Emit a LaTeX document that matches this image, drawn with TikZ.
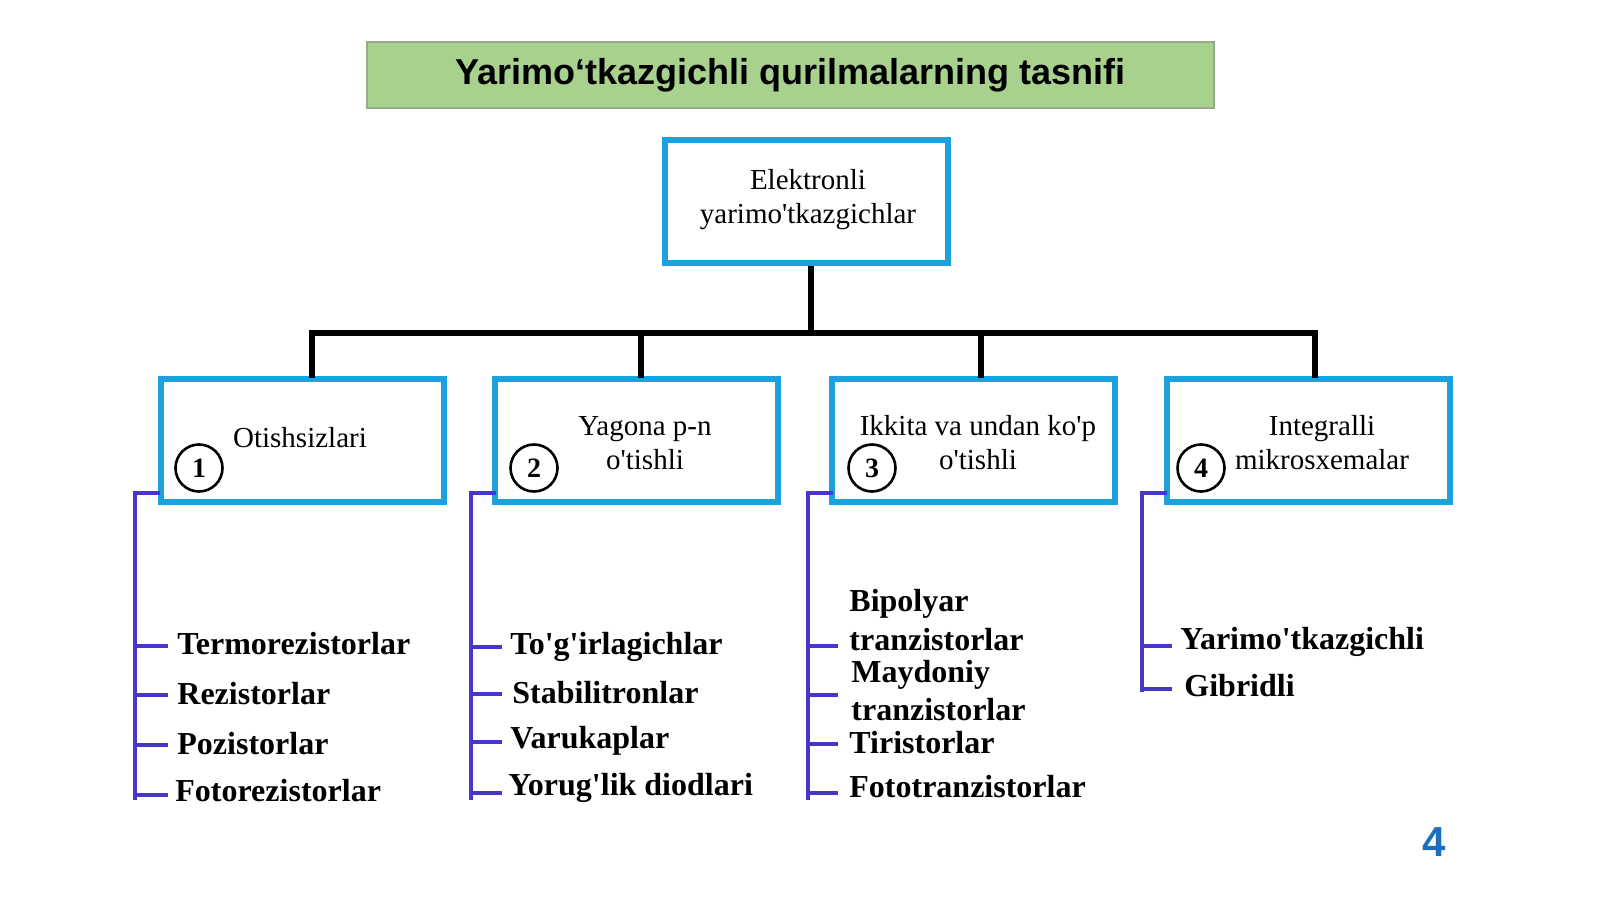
\documentclass[tikz,border=0pt]{standalone}
\usepackage{fontspec}
\setmainfont{Liberation Serif}
\newfontfamily\titlefont{Liberation Sans}
\newcommand\qq{\textquotesingle}
\begin{document}
\begin{tikzpicture}[x=0.5pt,y=-0.5pt,
  bluebox/.style={draw={rgb,255:red,30;green,160;blue,220},line width=3.2pt,minimum width=141.5pt,minimum height=61.5pt,inner sep=0pt},
  tree/.style={line width=2.6pt,black},
  brk/.style={line width=1.8pt,color={rgb,255:red,70;green,55;blue,200}},
  item/.style={anchor=west,font=\bfseries\fontsize{16}{17}\selectfont,inner sep=0pt},
  btxt/.style={font=\fontsize{14.5}{17}\selectfont,align=center,inner sep=0pt},
  num/.style={circle,draw,line width=1.3pt,minimum size=23.5pt,inner sep=0pt,font=\bfseries\fontsize{14}{14}\selectfont}]
\useasboundingbox (0,0) rectangle (1600,899);
\node[draw={rgb,255:red,150;green,170;blue,140},fill={rgb,255:red,169;green,209;blue,142},line width=0.8pt,minimum width=423.5pt,minimum height=33pt,inner sep=0pt,font=\titlefont\bfseries\fontsize{18}{20}\selectfont] (title) at (790.5,75) {Yarimo‘tkazgichli qurilmalarning tasnifi};
\node[bluebox] (top) at (806.5,201.5) {};
\node[btxt] at (808,200) {Elektronli\\yarimo\qq tkazgichlar};
\foreach \i/\x in {1/302.5,2/636.5,3/973.5,4/1308.5}{\node[bluebox] (b\i) at (\x,440.5) {};}
\node[btxt] at (300,438) {Otishsizlari};
\node[btxt] at (645,443) {Yagona p-n\\o\qq tishli};
\node[btxt] at (978,443) {Ikkita va undan ko\qq p\\o\qq tishli};
\node[btxt] at (1322,443) {Integralli\\mikrosxemalar};
\node[num] (n1) at (199,468) {1};
\node[num] (n2) at (534,468) {2};
\node[num] (n3) at (872,468) {3};
\node[num] (n4) at (1201,468) {4};
\coordinate (hj) at (811,333);
\draw[tree] (top.south -| hj) -- (hj);
\draw[tree] (312,378) |- (1315,333) -- (1315,378);
\draw[tree] (641,333) -- (641,378);
\draw[tree] (981,333) -- (981,378);
\foreach \x/\e in {135/800,471/800,808/800,1142/692}{
  \draw[brk] (\x+25,493) -- (\x,493) -- (\x,\e);}
\foreach \y in {646,695,745,795}{\draw[brk] (135,\y) -- (168,\y);}
\foreach \y in {647,694,742,793}{\draw[brk] (471,\y) -- (502,\y);}
\foreach \y in {646,695,744,793}{\draw[brk] (808,\y) -- (838,\y);}
\foreach \y in {646,689}{\draw[brk] (1142,\y) -- (1172,\y);}
\node[item] (i11) at (177,644) {Termorezistorlar};
\node[item] (i12) at (177,694) {Rezistorlar};
\node[item] (i13) at (177,744) {Pozistorlar};
\node[item] (i14) at (175,791) {Fotorezistorlar};
\node[item] (i21) at (510,647) {To\qq g\qq irlagichlar};
\node[item] (i22) at (512,693) {Stabilitronlar};
\node[item] (i23) at (510,741) {Varukaplar};
\node[item] (i24) at (508,788) {Yorug\qq lik diodlari};
\node[item] (i31) at (849,604) {Bipolyar};
\node[item] (i32) at (849,640) {tranzistorlar};
\node[item] (i33) at (851,675) {Maydoniy};
\node[item] (i34) at (851,710) {tranzistorlar};
\node[item] (i35) at (849,743) {Tiristorlar};
\node[item] (i36) at (849,787) {Fototranzistorlar};
\node[item] (i41) at (1180,642) {Yarimo\qq tkazgichli};
\node[item] (i42) at (1184,686) {Gibridli};
\node[font=\titlefont\bfseries\fontsize{21}{21}\selectfont,text={rgb,255:red,30;green,110;blue,190}] (pg) at (1434,842) {4};
\end{tikzpicture}
\end{document}
